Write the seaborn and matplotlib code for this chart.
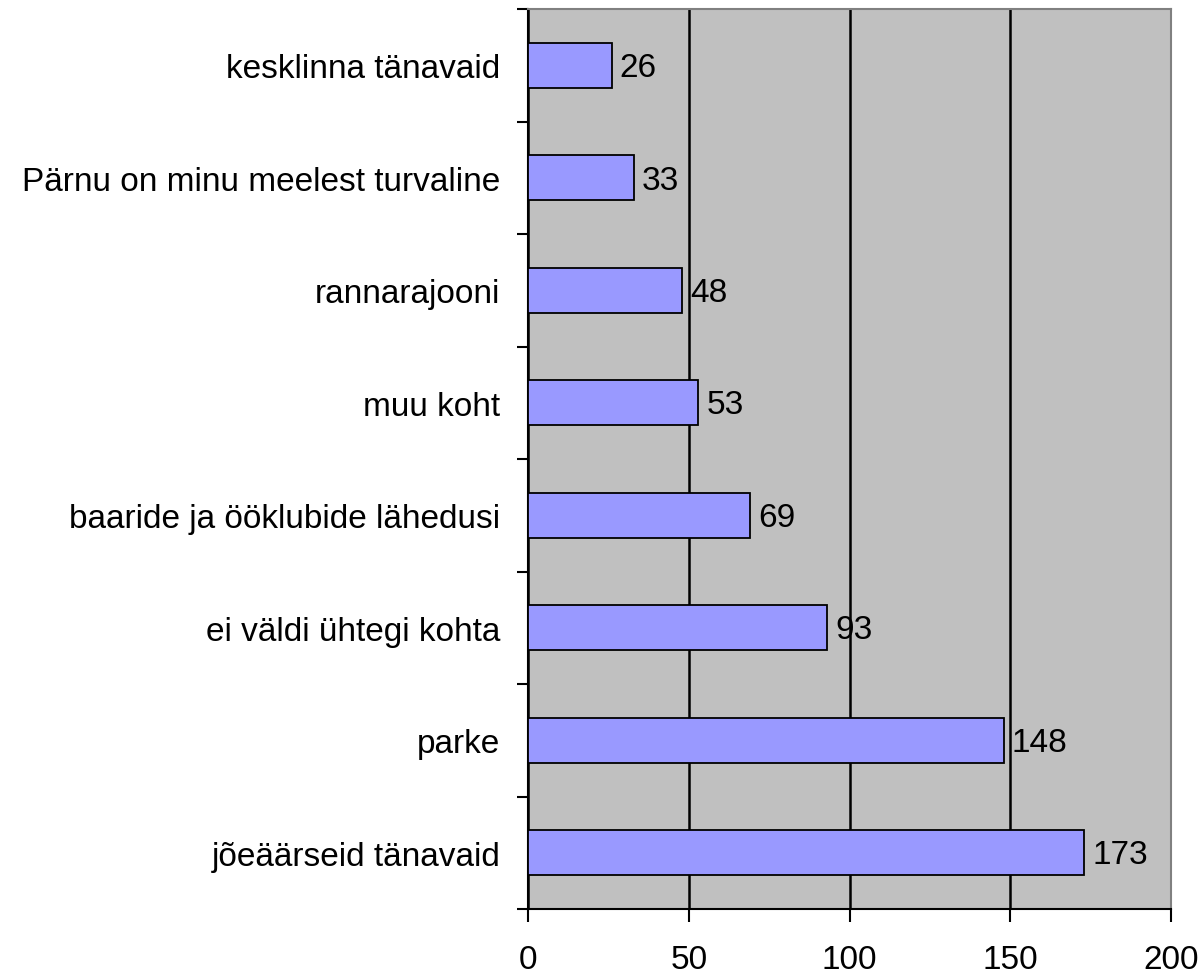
import matplotlib
matplotlib.use('Agg')
import matplotlib.pyplot as plt
import seaborn as sns
import pandas as pd

categories = ['kesklinna tänavaid', 'Pärnu on minu meelest turvaline', 'rannarajooni',
              'muu koht', 'baaride ja ööklubide lähedusi', 'ei väldi ühtegi kohta',
              'parke', 'jõeäärseid tänavaid']
values = [26, 33, 48, 53, 69, 93, 148, 173]
x_ticks = [0, 50, 100, 150, 200]

df = pd.DataFrame({'place': categories, 'count': values})

sns.set_style('white')
plt.rcParams['font.family'] = ['Liberation Sans', 'DejaVu Sans']
plt.rcParams['text.color'] = 'black'
plt.rcParams['xtick.labelcolor'] = 'black'
plt.rcParams['ytick.labelcolor'] = 'black'

fig = plt.figure(figsize=(12.03, 9.79), dpi=100)
ax = fig.add_axes([528 / 1203, 69 / 979, 643 / 1203, 900 / 979])
ax.set_facecolor('#C0C0C0')

sns.barplot(data=df, x='count', y='place', order=categories, color='#9999FF',
            saturation=1, width=0.4, edgecolor='black', linewidth=1.3, ax=ax, zorder=3)

for i, v in enumerate(values):
    ax.text(v + 2.5, i + 0.02, str(v), va='center', ha='left', fontsize=24, color='black', zorder=4)

ax.set_xlim(0, 200)
ax.set_ylim(len(categories) - 0.5, -0.5)
ax.set_xticks(x_ticks)
ax.set_xticklabels([str(t) for t in x_ticks])
ax.set_yticks([i - 0.5 for i in range(len(categories) + 1)], minor=True)
ax.set_yticks(range(len(categories)))
ax.set_yticklabels(categories)

ax.xaxis.grid(True, color='black', linewidth=1.8, zorder=1)
ax.set_axisbelow(True)
ax.set_xlabel('')
ax.set_ylabel('')

ax.tick_params(axis='y', which='major', length=0, pad=20, labelsize=24)
ax.tick_params(axis='y', which='minor', length=8, width=1.5, direction='out', color='black', left=True)
ax.tick_params(axis='x', which='major', length=9, width=1.5, direction='out', color='black',
               pad=16, labelsize=24, bottom=True)

for side in ['left', 'bottom']:
    ax.spines[side].set_color('black')
    ax.spines[side].set_linewidth(1.5)
for side in ['top', 'right']:
    ax.spines[side].set_visible(True)
    ax.spines[side].set_color('#808080')
    ax.spines[side].set_linewidth(1.5)

plt.savefig('out.png', dpi=100)
plt.close()
